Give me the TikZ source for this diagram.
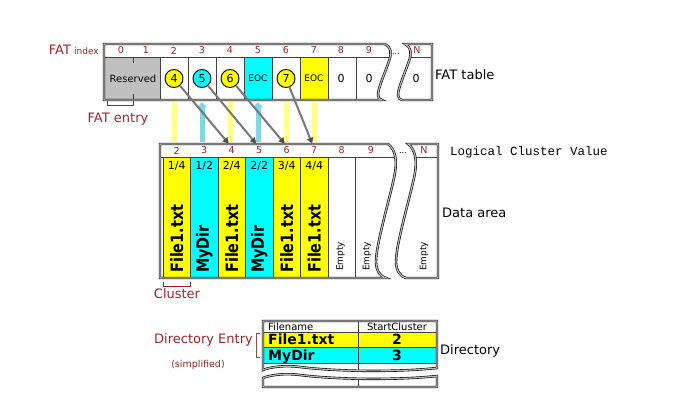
\documentclass[tikz,border=0pt]{standalone}
\usepackage{fontspec}
\setmainfont{DejaVu Sans}
\newfontfamily\monofont{Liberation Mono}
\newfontfamily\namefont[FakeStretch=0.85]{DejaVu Sans}
\usetikzlibrary{arrows.meta}
\newcommand\myfs[1]{\fontsize{#1}{#1}\selectfont}
\definecolor{dred}{RGB}{150,40,45}
\definecolor{yel}{RGB}{255,255,0}
\definecolor{cya}{RGB}{0,255,255}
\definecolor{resgray}{RGB}{192,192,192}
\definecolor{paley}{RGB}{255,255,140}
\definecolor{palec}{RGB}{130,215,225}
\definecolor{arrgray}{RGB}{120,120,120}
\tikzset{
  frame/.style={draw=black, line width=0.6pt, double=gray!55, double distance=1.2pt},
  divider/.style={draw=black!75, line width=0.6pt},
  cellnode/.style={inner sep=0pt, minimum height=43pt, minimum width=28pt},
  dcell/.style={inner sep=0pt, minimum height=121pt, minimum width=27.5pt},
  ptr/.style={circle, draw=black, line width=0.9pt, minimum size=18pt, inner sep=0pt, font=\myfs{11}},
  hdr/.style={text=dred, font=\myfs{9.5}, inner sep=0pt},
  dhead/.style={hdr, minimum width=27.5pt, minimum height=13pt},
  frac/.style={font=\myfs{11}, inner sep=0pt},
  vname/.style={rotate=90, anchor=west, font=\namefont\bfseries\myfs{17}, inner sep=0pt},
  vempty/.style={rotate=90, anchor=west, font=\myfs{9}, inner sep=0pt},
  lbl/.style={font=\myfs{13}, inner sep=0pt},
  redlbl/.style={lbl, text=dred},
  bracket/.style={draw=dred, line width=0.8pt},
  garrow/.style={draw=arrgray, line width=2pt, -{Triangle[length=6pt,width=6pt,color=black!70]}},
  ybar/.style={draw=paley, line width=5pt, shorten <=2pt, shorten >=2pt},
  cbar/.style={draw=palec, line width=5pt, -{Triangle[length=5pt,width=10pt]}, shorten <=2pt, shorten >=2pt},
}
\begin{document}
\begin{tikzpicture}[x=1pt,y=-1pt]
\useasboundingbox (0,0) rectangle (673,412);

% ---------------- FAT table ----------------
\fill[white] (104,44) -- (385,44) .. controls (391,47) and (392,53) .. (389,61) .. controls (385,73) and (378,88) .. (378,95) .. controls (378,98) and (380,100) .. (382,100) -- (104,100) -- cycle
 (405,44) -- (432,44) -- (432,100) -- (402,100) .. controls (400,100) and (398,98) .. (398,95) .. controls (398,88) and (405,73) .. (409,61) .. controls (412,53) and (411,47) .. (405,44) -- cycle;
\begin{scope}
\clip (104,44) -- (385,44) .. controls (391,47) and (392,53) .. (389,61) .. controls (385,73) and (378,88) .. (378,95) .. controls (378,98) and (380,100) .. (382,100) -- (104,100) -- cycle
 (405,44) -- (432,44) -- (432,100) -- (402,100) .. controls (400,100) and (398,98) .. (398,95) .. controls (398,88) and (405,73) .. (409,61) .. controls (412,53) and (411,47) .. (405,44) -- cycle;
\fill[resgray] (104,57) rectangle (160,100);
\node[cellnode] (f2) at (174,78.5) {};
\node[cellnode] (f3) at (202,78.5) {};
\node[cellnode] (f4) at (230,78.5) {};
\node[cellnode, fill=cya, font=\myfs{9}] (f5) at (258,78.5) {EOC};
\node[cellnode] (f6) at (286,78.5) {};
\node[cellnode, fill=yel, font=\myfs{9}] (f7) at (314,78.5) {EOC};
\node[cellnode, font=\myfs{11}] (f8) at (341,78.5) {0};
\node[cellnode, font=\myfs{11}] (f9) at (369,78.5) {0};
\node[cellnode, font=\myfs{11}] (fN) at (416,78.5) {0};
\draw[divider] (104,57) -- (440,57);
\foreach \x in {160,188,...,356} \draw[divider] (\x,57) -- (\x,100);
\draw[divider] (133,57) -- (133,63) (133,94) -- (133,100);
\end{scope}
\draw[frame] (104,44) -- (385,44) .. controls (391,47) and (392,53) .. (389,61) .. controls (385,73) and (378,88) .. (378,95) .. controls (378,98) and (380,100) .. (382,100) -- (104,100) -- cycle;
\draw[frame] (405,44) -- (432,44) -- (432,100) -- (402,100) .. controls (400,100) and (398,98) .. (398,95) .. controls (398,88) and (405,73) .. (409,61) .. controls (412,53) and (411,47) .. (405,44) -- cycle;
\node[font=\myfs{10}, inner sep=0pt] (res) at (133,78.5) {Reserved};
\node[ptr, fill=yel] (c4) at (f2) {4};
\node[ptr, fill=cya] (c5) at (f3) {5};
\node[ptr, fill=yel] (c6) at (f4) {6};
\node[ptr, fill=yel] (c7) at (f6) {7};
% header numbers
\node[hdr] (h0) at (121,50.5) {0};
\node[hdr] (h1) at (146,50.5) {1};
\node[hdr] (h2) at (174,50.5) {2};
\node[hdr] (h3) at (202,50.5) {3};
\node[hdr] (h4) at (230,50.5) {4};
\node[hdr] (h5) at (258,50.5) {5};
\node[hdr] (h6) at (286,50.5) {6};
\node[hdr] (h7) at (314,50.5) {7};
\node[hdr] (h8) at (341,50.5) {8};
\node[hdr] (h9) at (369,50.5) {9};
\node[hdr] (hN) at (417,50.5) {N};
\node[font=\myfs{8}, inner sep=0pt] (fdots) at (396,54) {...};
% labels
\node[text=dred, inner sep=0pt, anchor=base east] (fatidx) at (99,55) {{\myfs{13}FAT} {\myfs{9}index}};
\node[lbl, anchor=base west] (fattab) at (435,80) {FAT table};
\draw[bracket] (107,101) -- (107,105) -- (133,105) -- (133,101);
\node[redlbl, anchor=base] (fatent) at (118,122) {FAT entry};

% ---------------- Data area ----------------
\fill[white] (160,144) -- (388,144) .. controls (395,149) and (398,160) .. (394,178) .. controls (388,205) and (376,245) .. (376,262) .. controls (376,271) and (381,277) .. (386,278) -- (160,278) -- cycle
 (408,144) -- (438,144) -- (438,278) -- (406,278) .. controls (401,277) and (396,271) .. (396,262) .. controls (396,245) and (408,205) .. (414,178) .. controls (418,160) and (415,149) .. (408,144) -- cycle;
\begin{scope}
\clip (160,144) -- (388,144) .. controls (395,149) and (398,160) .. (394,178) .. controls (388,205) and (376,245) .. (376,262) .. controls (376,271) and (381,277) .. (386,278) -- (160,278) -- cycle
 (408,144) -- (438,144) -- (438,278) -- (406,278) .. controls (401,277) and (396,271) .. (396,262) .. controls (396,245) and (408,205) .. (414,178) .. controls (418,160) and (415,149) .. (408,144) -- cycle;
\node[dcell, fill=yel] (dc2) at (176.75,217.5) {};
\node[dcell, fill=cya] (dc3) at (204.25,217.5) {};
\node[dcell, fill=yel] (dc4) at (231.75,217.5) {};
\node[dcell, fill=cya] (dc5) at (259.25,217.5) {};
\node[dcell, fill=yel] (dc6) at (286.75,217.5) {};
\node[dcell, fill=yel] (dc7) at (314.25,217.5) {};
\draw[divider] (160,157) -- (440,157);
\foreach \x in {163,190.5,218,245.5,273,300.5,328,355.5} \draw[divider] (\x,157) -- (\x,278);
\end{scope}
\draw[frame] (160,144) -- (388,144) .. controls (395,149) and (398,160) .. (394,178) .. controls (388,205) and (376,245) .. (376,262) .. controls (376,271) and (381,277) .. (386,278) -- (160,278) -- cycle;
\draw[frame] (408,144) -- (438,144) -- (438,278) -- (406,278) .. controls (401,277) and (396,271) .. (396,262) .. controls (396,245) and (408,205) .. (414,178) .. controls (418,160) and (415,149) .. (408,144) -- cycle;
% header numbers
\node[dhead] (d2) at (176.75,150.5) {2};
\node[dhead] (d3) at (204.25,150.5) {3};
\node[dhead] (d4) at (231.75,150.5) {4};
\node[dhead] (d5) at (259.25,150.5) {5};
\node[dhead] (d6) at (286.75,150.5) {6};
\node[dhead] (d7) at (314.25,150.5) {7};
\node[dhead] (d8) at (341.75,150.5) {8};
\node[dhead] (d9) at (371,150.5) {9};
\node[hdr] (dN) at (424,150.5) {N};
\node[font=\myfs{8}, inner sep=0pt] (ddots) at (403,153) {...};
% fractions
\node[frac] (q2) at (176.75,166) {1/4};
\node[frac] (q3) at (204.25,166) {1/2};
\node[frac] (q4) at (231.75,166) {2/4};
\node[frac] (q5) at (259.25,166) {2/2};
\node[frac] (q6) at (286.75,166) {3/4};
\node[frac] (q7) at (314.25,166) {4/4};
% vertical names
\node[vname] (n2) at (176.75,273) {File1.txt};
\node[vname] (n3) at (204.25,273) {MyDir};
\node[vname] (n4) at (231.75,273) {File1.txt};
\node[vname] (n5) at (259.25,273) {MyDir};
\node[vname] (n6) at (286.75,273) {File1.txt};
\node[vname] (n7) at (314.25,273) {File1.txt};
\node[vempty] (n8) at (340.5,271) {Empty};
\node[vempty] (n9) at (367,271) {Empty};
\node[vempty] (nN) at (424,271) {Empty};
% labels
\node[font=\monofont\myfs{12.5}, inner sep=0pt, anchor=base west] (lcv) at (450,156) {Logical Cluster Value};
\node[lbl, anchor=base west] (darea) at (442,217) {Data area};
\draw[bracket] (163,282) -- (163,286) -- (190,286) -- (190,282);
\node[redlbl, anchor=base] (clus) at (177,298) {Cluster};

% ---------------- connectors ----------------
\draw[ybar] (f2.south) -- (f2.south |- d2.north);
\draw[cbar] (f3.south |- d3.north) -- (f3.south);
\draw[ybar] (f4.south) -- (f4.south |- d4.north);
\draw[cbar] (f5.south |- d5.north) -- (f5.south);
\draw[ybar] (f6.south) -- (f6.south |- d6.north);
\draw[ybar] (f7.south) -- (f7.south |- d7.north);
\draw[garrow] (c4) -- ([xshift=-3pt]d4.north);
\draw[garrow] (c5) -- ([xshift=-3pt]d5.north);
\draw[garrow] (c6) -- ([xshift=-2pt]d6.north);
\draw[garrow] (c7) -- ([xshift=-2pt]d7.north);

% ---------------- Directory ----------------
\fill[white] (263,321) -- (437,321) -- (437,368) .. controls (400,372) and (340,372) .. (300,367) .. controls (285,365) and (270,367) .. (263,370) -- cycle
 (263,378) .. controls (270,375) and (285,373) .. (300,375) .. controls (340,380) and (400,380) .. (437,376) -- (437,387) -- (263,387) -- cycle;
\begin{scope}
\clip (263,321) -- (437,321) -- (437,368) .. controls (400,372) and (340,372) .. (300,367) .. controls (285,365) and (270,367) .. (263,370) -- cycle
 (263,378) .. controls (270,375) and (285,373) .. (300,375) .. controls (340,380) and (400,380) .. (437,376) -- (437,387) -- (263,387) -- cycle;
\fill[yel] (263,332) rectangle (437,347);
\fill[cya] (263,347) rectangle (437,363);
\draw[divider] (263,332) -- (437,332) (263,347) -- (437,347) (263,363) -- (437,363);
\draw[divider] (358,321) -- (358,387);
\end{scope}
\draw[frame] (263,321) -- (437,321) -- (437,368) .. controls (400,372) and (340,372) .. (300,367) .. controls (285,365) and (270,367) .. (263,370) -- cycle;
\draw[frame] (263,378) .. controls (270,375) and (285,373) .. (300,375) .. controls (340,380) and (400,380) .. (437,376) -- (437,387) -- (263,387) -- cycle;
\node[font=\myfs{10}, inner sep=0pt, anchor=base west] (fnh) at (268,330) {Filename};
\node[font=\myfs{10}, inner sep=0pt, anchor=base] (sch) at (397,330) {StartCluster};
\node[font=\bfseries\myfs{14}, inner sep=0pt, anchor=base west] (r1n) at (268,344) {File1.txt};
\node[font=\bfseries\myfs{14}, inner sep=0pt, anchor=base] (r1c) at (397,344) {2};
\node[font=\bfseries\myfs{14}, inner sep=0pt, anchor=base west] (r2n) at (268,360) {MyDir};
\node[font=\bfseries\myfs{14}, inner sep=0pt, anchor=base] (r2c) at (397,360) {3};
\node[lbl, anchor=base west] (dirl) at (440,354) {Directory};
\node[redlbl, anchor=base east] (dent) at (253,343) {Directory Entry};
\node[text=dred, font=\myfs{9.5}, inner sep=0pt, anchor=base] (simp) at (198,367) {(simplified)};
\draw[draw=dred!60!gray, line width=0.8pt] (260,333) -- (256,333) -- (256,357) -- (260,357);
\end{tikzpicture}
\end{document}
